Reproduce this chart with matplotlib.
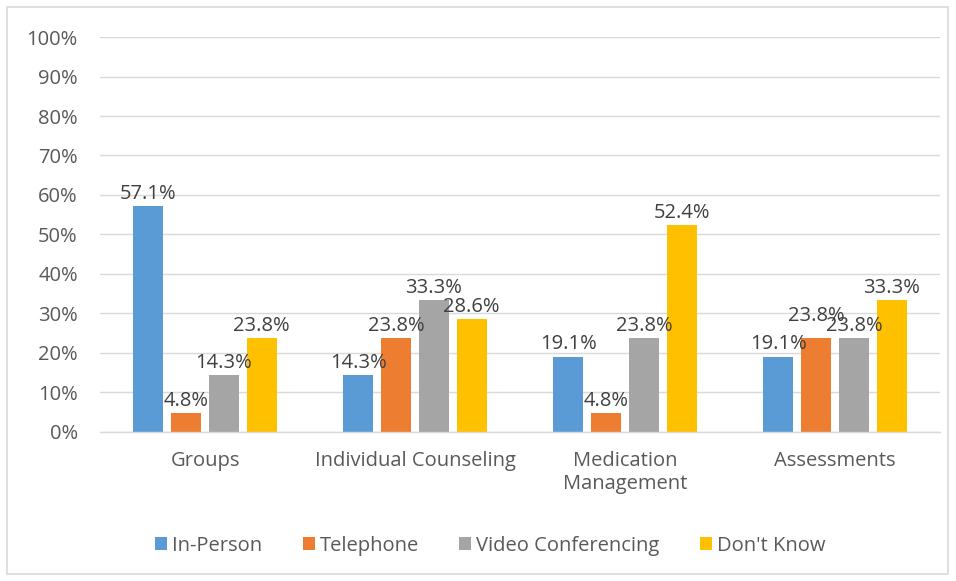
import matplotlib.pyplot as plt
import numpy as np
from matplotlib.patches import Rectangle

categories = ['Groups', 'Individual Counseling', 'Medication\nManagement', 'Assessments']
series = ['In-Person', 'Telephone', 'Video Conferencing', "Don't Know"]
in_person = [57.1, 14.3, 19.1, 19.1]
telephone = [4.8, 23.8, 4.8, 23.8]
video = [14.3, 33.3, 23.8, 23.8]
dont_know = [23.8, 28.6, 52.4, 33.3]
colors = ['#5b9bd5', '#ed7d31', '#a5a5a5', '#ffc000']

plt.rcParams['font.family'] = ['Open Sans', 'DejaVu Sans']
txt = '#595959'
fs = 14.5

fig = plt.figure(figsize=(9.56, 5.81), dpi=100)
ax = fig.add_axes([0.1046, 0.2565, 0.8787, 0.6798])

x = np.arange(len(categories))
width = 0.143
step = 0.18
for i, (name, vals) in enumerate(zip(series, [in_person, telephone, video, dont_know])):
    pos = x + (i - 1.5) * step
    ax.bar(pos, vals, width, color=colors[i], label=name, zorder=2)
    for j, (p, v) in enumerate(zip(pos, vals)):
        # Excel bumped the telephone label in Assessments up a bit
        dy = 3.0 if (i, j) == (1, 3) else 0.6
        ax.text(p, v + dy, f'{v:.1f}%', ha='center', va='bottom',
                fontsize=fs, color='#404040', zorder=3)

ax.set_xlim(-0.5, 3.5)
ax.set_ylim(0, 100)
ax.set_yticks(np.arange(0, 101, 10))
ax.set_yticklabels([f'{t}%' for t in range(0, 101, 10)])
ax.set_xticks(x)
ax.set_xticklabels(categories, linespacing=1.15)
ax.tick_params(axis='both', length=0, labelsize=fs, colors=txt)
ax.tick_params(axis='y', pad=16)
ax.tick_params(axis='x', pad=14)
ax.grid(axis='y', color='#d9d9d9', linewidth=1, zorder=0)
for s in ['top', 'right', 'left']:
    ax.spines[s].set_visible(False)
ax.spines['bottom'].set_color('#d9d9d9')
ax.spines['bottom'].set_linewidth(1)

fig.legend(loc='center', bbox_to_anchor=(0.513, 0.061), ncol=4, frameon=False,
           fontsize=fs, labelcolor=txt, handlelength=0.6, handleheight=0.6,
           handletextpad=0.25, columnspacing=2.0)

fig.patches.append(Rectangle((7 / 956, 7 / 581), 941 / 956, 567 / 581,
                             transform=fig.transFigure, fill=False,
                             edgecolor='#d9d9d9', linewidth=1.2))

fig.savefig('out.png', dpi=100)
